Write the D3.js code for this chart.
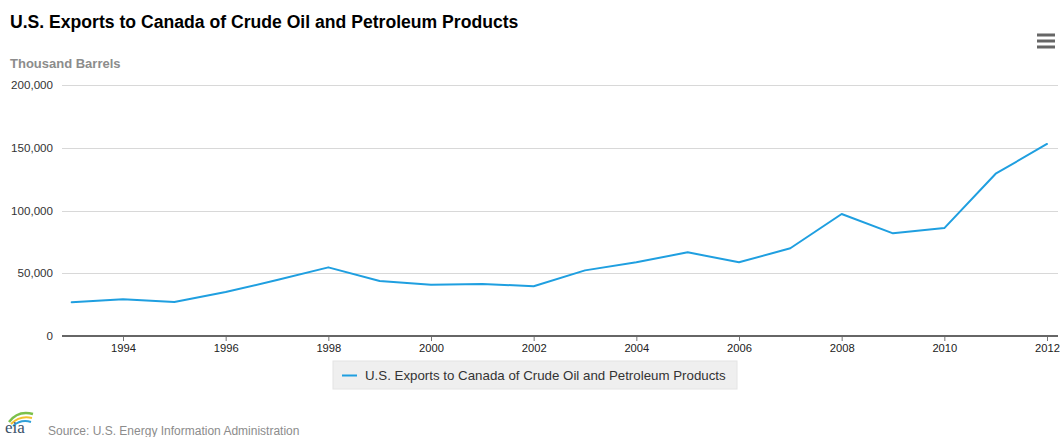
<!DOCTYPE html>
<html>
<head>
<meta charset="utf-8">
<script src="https://cdn.jsdelivr.net/npm/d3@7"></script>
<style>
  html, body { margin: 0; padding: 0; background: #fff; }
  svg { display: block; font-family: "Liberation Sans", Arial, Helvetica, sans-serif; }
</style>
</head>
<body>
<svg id="chart" width="1062" height="437"></svg>
<script>
const years = [1993,1994,1995,1996,1997,1998,1999,2000,2001,2002,2003,2004,2005,2006,2007,2008,2009,2010,2011,2012];
const exportsValues = [26900,29200,27100,35000,44600,54700,43800,40900,41500,39600,52300,58700,66700,58700,69900,97200,81800,86000,129300,153000];
const yTicks = [0,50000,100000,150000,200000];
const xTicks = [1994,1996,1998,2000,2002,2004,2006,2008,2010,2012];
const titleText = "U.S. Exports to Canada of Crude Oil and Petroleum Products";
const yAxisTitle = "Thousand Barrels";
const seriesName = "U.S. Exports to Canada of Crude Oil and Petroleum Products";
const sourceText = "Source: U.S. Energy Information Administration";

const svg = d3.select("#chart");
const plot = {left: 62, right: 1058, top: 85, bottom: 336};

const x = d3.scaleLinear().domain([1994, 2012]).range([123, 1047]);
const y = d3.scaleLinear().domain([0, 200000]).range([plot.bottom, plot.top]);

// Title
svg.append("text").attr("x", 10).attr("y", 28)
  .attr("font-size", 17.6).attr("font-weight", "bold").attr("fill", "#000")
  .text(titleText);

// Menu icon
[35, 41, 47].forEach(yy => {
  svg.append("rect").attr("x", 1037).attr("y", yy - 1.5).attr("width", 18).attr("height", 3)
    .attr("fill", "#666");
});

// Axis title
svg.append("text").attr("x", 10).attr("y", 68)
  .attr("font-size", 13).attr("font-weight", "bold").attr("fill", "#8c8c8c")
  .text(yAxisTitle);

// Grid lines
const grid = svg.append("g");
yTicks.filter(t => t > 0).forEach(t => {
  grid.append("line").attr("x1", plot.left).attr("x2", plot.right)
    .attr("y1", Math.round(y(t)) + 0.5).attr("y2", Math.round(y(t)) + 0.5)
    .attr("stroke", "#d8d8d8").attr("stroke-width", 1);
});

// Y axis labels
const yAxis = d3.axisLeft(y).tickValues(yTicks).tickSize(0).tickPadding(0)
  .tickFormat(d3.format(","));
const yg = svg.append("g").attr("transform", `translate(${plot.left - 9},0)`).call(yAxis);
yg.select(".domain").remove();
yg.selectAll("text").attr("font-size", 11.6).attr("fill", "#333").attr("font-family", null);

// X axis
const xAxis = d3.axisBottom(x).tickValues(xTicks).tickSize(5).tickPadding(3).tickFormat(d3.format("d"));
const xg = svg.append("g").attr("transform", `translate(0,${plot.bottom})`).call(xAxis);
xg.select(".domain").remove();
xg.selectAll(".tick line").attr("stroke", "#777");
xg.selectAll("text").attr("font-size", 11.2).attr("fill", "#222").attr("font-family", null);
svg.append("line").attr("x1", plot.left).attr("x2", plot.right)
  .attr("y1", plot.bottom).attr("y2", plot.bottom)
  .attr("stroke", "#666").attr("stroke-width", 2);

// Line
const line = d3.line().x((d, i) => x(years[i])).y(d => y(d));
svg.append("path").datum(exportsValues)
  .attr("d", line).attr("fill", "none")
  .attr("stroke", "#1f9fe0").attr("stroke-width", 2)
  .attr("stroke-linejoin", "round").attr("stroke-linecap", "round");

// Legend
const lg = svg.append("g");
lg.append("rect").attr("x", 333).attr("y", 361).attr("width", 404).attr("height", 28)
  .attr("fill", "#efefef").attr("stroke", "#e4e4e4");
lg.append("line").attr("x1", 342).attr("x2", 357).attr("y1", 375.5).attr("y2", 375.5)
  .attr("stroke", "#1f9fe0").attr("stroke-width", 2);
lg.append("text").attr("x", 365).attr("y", 380)
  .attr("font-size", 13.3).attr("fill", "#333").text(seriesName);

// Source logo
const logo = svg.append("g");
logo.append("path").attr("d", "M9,422 Q18,410 33,414").attr("fill", "none").attr("stroke", "#7cc04a").attr("stroke-width", 2.5);
logo.append("path").attr("d", "M11,424 Q20,415 32,418").attr("fill", "none").attr("stroke", "#f2c12e").attr("stroke-width", 2);
logo.append("path").attr("d", "M13,426 Q21,419 31,422").attr("fill", "none").attr("stroke", "#2e9fd8").attr("stroke-width", 2);
logo.append("text").attr("x", 5).attr("y", 433).attr("font-size", 17)
  .attr("font-family", "Liberation Serif, serif").attr("fill", "#3a5068").text("eia");

svg.append("text").attr("x", 48).attr("y", 435)
  .attr("font-size", 12).attr("fill", "#8c8c8c").text(sourceText);
</script>
</body>
</html>
